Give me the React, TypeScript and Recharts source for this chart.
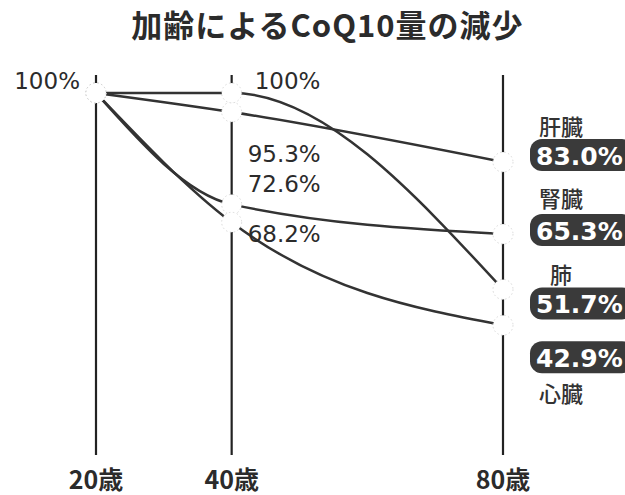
import { CartesianGrid, LabelList, Line, LineChart, XAxis, YAxis } from "recharts";

const TITLE = "加齢によるCoQ10量の減少";
const AGES = [20, 40, 80];
const ORGANS = ["肝臓", "腎臓", "肺", "心臓"];
const LIVER = [100, 95.3, 83.0];
const KIDNEY = [100, 72.6, 65.3];
const LUNG = [100, 100, 51.7];
const HEART = [100, 68.2, 42.9];

const KEYS = ["liver", "kidney", "lung", "heart"];
const SERIES = [LIVER, KIDNEY, LUNG, HEART];

const data = AGES.map((age, i) => {
  const row: Record<string, number> = { age };
  KEYS.forEach((k, s) => (row[k] = SERIES[s][i]));
  return row;
});

// label nudges per series (liver, kidney, lung, heart)
const MID_DX = [16, 16, 23, 16];
const MID_DY = [42, -20, -12, 12];
const BADGE_DY = [-7, -4, 14, 32];
const NAME_DY = [-37, -37, -16, 67];

const INK = "#2b2b2b";
const pct = (v: number) => (v === 100 ? "100%" : `${v.toFixed(1)}%`);

function makeLabel(s: number) {
  return (props: any) => {
    const { x, y, value, index } = props;
    if (index === 0) {
      if (s !== 2) return null;
      return (
        <text x={x - 16} y={y - 12} textAnchor="end" dominantBaseline="central"
          fontSize={23} fontFamily="DejaVu Sans" fill={INK}>
          {pct(value)}
        </text>
      );
    }
    if (index === 1) {
      return (
        <text x={x + MID_DX[s]} y={y + MID_DY[s]} dominantBaseline="central"
          fontSize={23} fontFamily="DejaVu Sans" fill={INK}>
          {pct(value)}
        </text>
      );
    }
    const by = y + BADGE_DY[s];
    return (
      <g>
        <rect x={x + 27} y={by - 16} width={104} height={32} rx={12} fill="#3a3a3a" />
        <text x={x + 33} y={by + 1} dominantBaseline="central" fontSize={25}
          fontWeight={700} fontFamily="DejaVu Sans" fill="#fff">
          {pct(value)}
        </text>
        <text x={x + 58} y={y + NAME_DY[s]} textAnchor="middle" dominantBaseline="central"
          fontSize={22} fontWeight={500} fontFamily="Noto Sans CJK JP" fill="#333">
          {ORGANS[s]}
        </text>
      </g>
    );
  };
}

function AgeTick(props: any) {
  const { x, y, payload } = props;
  return (
    <text x={x} y={y + 34} textAnchor="middle" fontSize={25} fontWeight={700}
      fontFamily="Noto Sans CJK JP" fill={INK}>
      {`${payload.value}歳`}
    </text>
  );
}

export default function App() {
  return (
    <div style={{ position: "absolute", left: 0, top: 0, width: 625, height: 495, background: "#fff" }}>
      <div
        style={{
          position: "absolute",
          top: 1,
          left: 0,
          width: 625,
          paddingLeft: 30,
          boxSizing: "border-box",
          textAlign: "center",
          fontFamily: "Noto Sans CJK JP",
          fontWeight: 700,
          fontSize: 31,
          letterSpacing: 1,
          color: INK,
        }}
      >
        {TITLE}
      </div>
      <LineChart width={625} height={495} data={data}
        margin={{ top: 75, right: 122, bottom: 0, left: 96 }}>
        <CartesianGrid horizontal={false} stroke="#222" strokeWidth={2.2} />
        <XAxis dataKey="age" type="number" domain={[20, 80]} ticks={AGES}
          axisLine={false} tickLine={false} tickSize={0} tickMargin={0}
          height={40} tick={<AgeTick />} interval={0} />
        <YAxis type="number" domain={[11, 104.4]} hide allowDataOverflow />
        {KEYS.map((k) => (
          <Line key={k} dataKey={k} type="monotone" stroke="#333" strokeWidth={2.5}
            dot={false} activeDot={false} isAnimationActive={false} />
        ))}
        {KEYS.map((k, s) => (
          <Line key={`${k}-dots`} dataKey={k} type="monotone" stroke="none"
            dot={{ r: 10, fill: "#fff", stroke: "#cfcfcf", strokeWidth: 0.8, strokeDasharray: "1.5 2.5" }}
            activeDot={false} isAnimationActive={false} legendType="none">
            <LabelList dataKey={k} content={makeLabel(s)} />
          </Line>
        ))}
      </LineChart>
    </div>
  );
}
